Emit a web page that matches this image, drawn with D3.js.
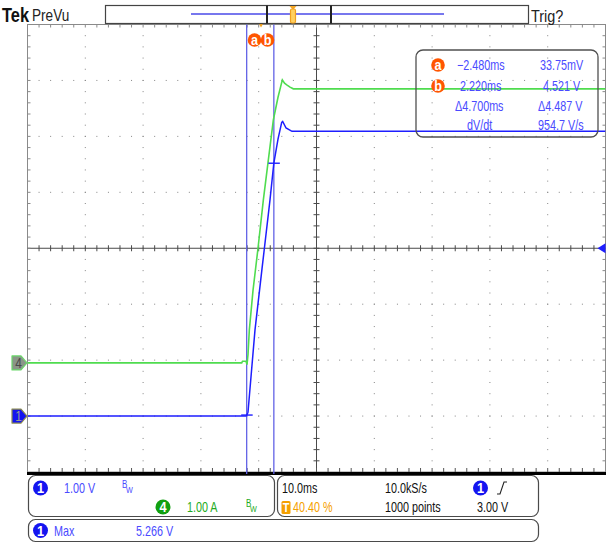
<!DOCTYPE html>
<html><head><meta charset="utf-8">
<script src="https://cdn.jsdelivr.net/npm/d3@7"></script>
<style>html,body{margin:0;padding:0;background:#fff;} svg{display:block}</style>
</head><body>
<svg id="c" width="608" height="544"></svg>
<script>
// ---------------- data ----------------
const ch1Time  = [-40.4, -2.6, -2.4, -2.25, -1.04, 0.17, 1.56, 2.22, 2.94, 3.58, 3.75, 4.33, 4.84, 5.36, 59.6];
const ch1Volts = [0.0, 0.0, 0.03, 0.07, 1.54, 2.63, 3.87, 4.52, 4.95, 5.25, 5.266, 5.15, 5.12, 5.09, 5.09];
const ch4Time  = [-40.4, -3.34, -3.2, -2.6, -2.42, -2.25, -2.02, -1.38, -0.52, 0.4, 1.21, 2.13, 2.94, 3.69, 4.07, 4.45, 5.02, 5.59, 59.6];
const ch4Amps  = [0, 0, 0.03, 0.03, -0.03, 0.15, 0.59, 1.3, 2.05, 2.91, 3.58, 4.34, 4.75, 5.06, 5.0, 4.97, 4.93, 4.90, 4.90];
const timeDomain = [-40.4, 59.6];      // ms, 10 ms/div, trigger at 40.40 %
const ch1Position = -3;                // divisions
const ch4Position = -2.05;             // divisions
const cursorTimes = [-2.480, 2.220];
const cursorLabels = ["a", "b"];
const readLeft  = ["\u22122.480ms", "2.220ms", "\u03944.700ms", "dV/dt"];
const readRight = ["33.75mV", "4.521 V", "\u03944.487 V", "954.7 V/s"];
const trigLevel = 3.00;

// ---------------- layout ----------------
const FONT = "'Liberation Sans',Arial,sans-serif";
const SX = 0.77;
const X0 = 27.5, X1 = 605.5, Y0 = 24.5, Y1 = 472;
const svg = d3.select('#c');
const xDiv = d3.scaleLinear([0, 10], [X0, X1]);
const yDiv = d3.scaleLinear([-4, 4], [Y1, Y0]);
const xT = d3.scaleLinear(timeDomain, [X0, X1]);
const y1 = v => yDiv(v / 1.0 + ch1Position);
const y4 = a => yDiv(a / 1.0 + ch4Position);

const BLUE = '#1e1eff', GREEN = '#4fdc4f', CURS = '#6262e6', TXTB = '#4a4aff';

function txt(x, y, s, col, size, opt) {
  opt = opt || {};
  return svg.append('text').attr('transform', `translate(${x},${y}) scale(${opt.sx || SX},1)`)
    .attr('font-family', FONT).attr('font-size', size || 14)
    .attr('font-weight', opt.bold ? 'bold' : 'normal')
    .attr('text-anchor', opt.anchor || 'start').attr('fill', col).text(s);
}

// ---------------- graticule ----------------
const grat = svg.append('g');
grat.append('rect').attr('x', X0).attr('y', Y0).attr('width', X1 - X0).attr('height', Y1 - Y0)
  .attr('fill', '#fff').attr('stroke', '#8a8a8a').attr('stroke-width', 1);
for (let i = 1; i < 10; i++) {
  if (i === 5) continue;
  for (let k = 1; k < 40; k++) {
    grat.append('rect').attr('x', xDiv(i) - 0.5).attr('y', yDiv(-4 + k / 5) - 0.5)
      .attr('width', 1).attr('height', 1).attr('fill', '#858585');
  }
}
for (let j = 1; j < 8; j++) {
  if (j === 4) continue;
  for (let k = 1; k < 50; k++) {
    grat.append('rect').attr('x', xDiv(k / 5) - 0.5).attr('y', yDiv(-4 + j) - 0.5)
      .attr('width', 1).attr('height', 1).attr('fill', '#858585');
  }
}
grat.append('line').attr('x1', xDiv(5)).attr('x2', xDiv(5)).attr('y1', Y0).attr('y2', Y1)
  .attr('stroke', '#4a4a4a').attr('stroke-width', 1);
grat.append('line').attr('x1', X0).attr('x2', X1).attr('y1', yDiv(0)).attr('y2', yDiv(0))
  .attr('stroke', '#4a4a4a').attr('stroke-width', 1);
for (let k = 1; k < 40; k++) {
  const y = yDiv(-4 + k / 5);
  grat.append('line').attr('x1', xDiv(5) - 3).attr('x2', xDiv(5) + 3).attr('y1', y).attr('y2', y)
    .attr('stroke', '#4a4a4a');
  grat.append('line').attr('x1', X0).attr('x2', X0 + 3).attr('y1', y).attr('y2', y).attr('stroke', '#8a8a8a');
  grat.append('line').attr('x1', X1 - 3).attr('x2', X1).attr('y1', y).attr('y2', y).attr('stroke', '#8a8a8a');
}
for (let k = 1; k < 50; k++) {
  const x = xDiv(k / 5);
  grat.append('line').attr('x1', x).attr('x2', x).attr('y1', yDiv(0) - 3).attr('y2', yDiv(0) + 3)
    .attr('stroke', '#4a4a4a');
  grat.append('line').attr('x1', x).attr('x2', x).attr('y1', Y0).attr('y2', Y0 + 3).attr('stroke', '#8a8a8a');
  grat.append('line').attr('x1', x).attr('x2', x).attr('y1', Y1 - 4).attr('y2', Y1).attr('stroke', '#555');
}
grat.append('rect').attr('x', X0 - 0.5).attr('y', Y1).attr('width', X1 - X0 + 1).attr('height', 3).attr('fill', '#000');

// ---------------- cursors ----------------
cursorTimes.forEach(t => {
  svg.append('line').attr('x1', xT(t)).attr('x2', xT(t)).attr('y1', Y0).attr('y2', Y1 + 2)
    .attr('stroke', CURS).attr('stroke-width', 1.3);
});

// ---------------- traces ----------------
svg.append('clipPath').attr('id', 'pc').append('rect')
  .attr('x', X0).attr('y', Y0).attr('width', X1 - X0).attr('height', Y1 - Y0);
const line4 = d3.line().x(d => xT(d[0])).y(d => y4(d[1]));
const line1 = d3.line().x(d => xT(d[0])).y(d => y1(d[1]));
svg.append('path').attr('d', line4(d3.zip(ch4Time, ch4Amps))).attr('fill', 'none')
  .attr('stroke', GREEN).attr('stroke-width', 1.6).attr('clip-path', 'url(#pc)');
svg.append('path').attr('d', line1(d3.zip(ch1Time, ch1Volts))).attr('fill', 'none')
  .attr('stroke', BLUE).attr('stroke-width', 1.5).attr('clip-path', 'url(#pc)');

const interp = (ts, vs, t) => { const i = d3.bisectRight(ts, t); const a = i - 1;
  const f = (t - ts[a]) / (ts[i] - ts[a]); return vs[a] + f * (vs[i] - vs[a]); };
cursorTimes.forEach(t => {
  const yy = y1(interp(ch1Time, ch1Volts, t));
  svg.append('line').attr('x1', xT(t) - 5.5).attr('x2', xT(t) + 6).attr('y1', yy).attr('y2', yy)
    .attr('stroke', BLUE).attr('stroke-width', 1.4);
});

// trigger position marker and cursor labels
const xTrig = xT(0);
svg.append('path').attr('d', `M${xTrig - 4},${Y0 - 4} L${xTrig + 4},${Y0 - 4} L${xTrig},${Y0 + 3} Z`)
  .attr('fill', '#f5a623');
function orangeBadge(cx, cy, label) {
  svg.append('circle').attr('cx', cx).attr('cy', cy).attr('r', 6.8).attr('fill', '#ff5500');
  txt(cx, cy + 4.5, label, '#fff', 14, { bold: true, anchor: 'middle', sx: 0.9 });
}
cursorTimes.forEach((t, i) => orangeBadge(i === 0 ? xTrig - 6.5 : xTrig + 6.5, 40, cursorLabels[i]));

// trigger level arrow
const yTL = y1(trigLevel);
svg.append('path').attr('d', `M${X1 - 8},${yTL} L${X1},${yTL - 5} L${X1},${yTL + 5} Z`).attr('fill', BLUE);

// channel ground markers
function chMarker(y, fill, stroke, label, tcol) {
  svg.append('path').attr('d', `M12,${y - 7} L21,${y - 7} L27,${y} L21,${y + 7} L12,${y + 7} Z`)
    .attr('fill', fill).attr('stroke', stroke).attr('stroke-width', 1.2).attr('stroke-linejoin', 'round');
  txt(18.5, y + 5, label, tcol, 14, { anchor: 'middle', sx: 0.85 });
}
chMarker(y4(0), '#8a9688', '#6ad86a', '4', '#4a4a4a');
chMarker(y1(0), '#1414f0', '#8a8a50', '1', '#9a9a9a');

// ---------------- cursor readout box ----------------
svg.append('rect').attr('x', 416).attr('y', 50).attr('width', 182).attr('height', 87).attr('rx', 7)
  .attr('fill', 'none').attr('stroke', '#505050').attr('stroke-width', 1.3);
const rowY = [70, 91, 111, 130];
const leftX = [457, 460, 455, 467];
const rightX = [540, 543, 538, 538];
[0, 1].forEach(i => orangeBadge(438, rowY[i] - 5, cursorLabels[i]));
readLeft.forEach((s, i) => txt(leftX[i], rowY[i], s, TXTB, 14));
readRight.forEach((s, i) => txt(rightX[i], rowY[i], s, TXTB, 14));

// ---------------- header ----------------
txt(2, 22, 'Tek', '#111', 20, { bold: true, sx: 0.82 });
txt(32, 21, 'PreVu', '#222', 17, { sx: 0.8 });
txt(531, 22, 'Trig?', '#222', 17, { sx: 0.85 });
svg.append('rect').attr('x', 105.5).attr('y', 5.5).attr('width', 423).attr('height', 18)
  .attr('fill', '#fff').attr('stroke', '#444').attr('stroke-width', 1.2);
svg.append('line').attr('x1', 191).attr('x2', 444).attr('y1', 14).attr('y2', 14)
  .attr('stroke', '#7777ee').attr('stroke-width', 1.8);
svg.append('line').attr('x1', 267).attr('x2', 267).attr('y1', 5.5).attr('y2', 23.5).attr('stroke', '#222').attr('stroke-width', 2);
svg.append('line').attr('x1', 331).attr('x2', 331).attr('y1', 5.5).attr('y2', 23.5).attr('stroke', '#222').attr('stroke-width', 2);
svg.append('path').attr('d', 'M289.5,6 L296.5,6 L293,10 Z').attr('fill', '#f5a623');
svg.append('rect').attr('x', 290.5).attr('y', 9).attr('width', 5).attr('height', 14).attr('rx', 1.5)
  .attr('fill', '#ffd060').attr('stroke', '#f0a020').attr('stroke-width', 1.2);

// ---------------- bottom panels ----------------
function panel(x, y, w, h) {
  svg.append('rect').attr('x', x).attr('y', y).attr('width', w).attr('height', h).attr('rx', 7)
    .attr('fill', '#fff').attr('stroke', '#4a4a4a').attr('stroke-width', 1.2);
}
panel(28.5, 475.5, 246, 41);
panel(277.5, 475.5, 261, 41);
panel(28.5, 519.5, 510, 22);
function badge(cx, cy, fill, label) {
  svg.append('circle').attr('cx', cx).attr('cy', cy).attr('r', 7.5).attr('fill', fill);
  txt(cx, cy + 5, label, '#fff', 15, { bold: true, anchor: 'middle', sx: 0.85 });
}
function bw(x, y, col) {
  txt(x, y - 2, 'B', col, 10, { sx: 0.8 }); txt(x + 4, y + 3, 'W', col, 9, { sx: 0.8 });
}
badge(40.5, 488, '#1414f0', '1');
txt(64, 493, '1.00 V', TXTB);
bw(122, 490, TXTB);
badge(163, 507, '#10a010', '4');
txt(187, 512, '1.00 A', '#22aa22');
bw(246, 509, '#22aa22');
txt(282, 493, '10.0ms', '#111');
txt(385, 493, '10.0kS/s', '#111');
badge(480.5, 488, '#1414f0', '1');
svg.append('path').attr('d', 'M497,494 L500,494 L504,482 L507,482').attr('fill', 'none')
  .attr('stroke', '#222').attr('stroke-width', 1.1);
svg.append('rect').attr('x', 281.5).attr('y', 501).attr('width', 9).attr('height', 13).attr('rx', 1.5).attr('fill', '#f5a000');
txt(286, 512, 'T', '#fff', 12, { anchor: 'middle', bold: true, sx: 0.9 });
txt(293, 512, '40.40 %', '#f5a000');
txt(385, 512, '1000 points', '#111');
txt(477, 512, '3.00 V', '#111');
badge(40.5, 530.5, '#1414f0', '1');
txt(54, 535.5, 'Max', TXTB);
txt(136, 535.5, '5.266 V', TXTB);
</script>
</body></html>
